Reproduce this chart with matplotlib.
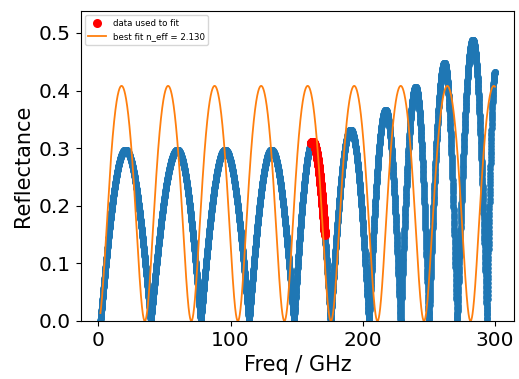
import numpy as np
import matplotlib
matplotlib.use("Agg")
import matplotlib.pyplot as plt

ext_freq = [1.6, 20.5, 39.7, 59.8, 77.5, 95.8, 114.0, 130.9, 148.0, 162.0, 175.7,
            190.8, 204.7, 217.3, 228.6, 240.0, 250.0, 261.8, 271.4, 283.2, 294.0, 300.0]
ext_refl = [0.0, 0.297, 0.0, 0.297, 0.0, 0.297, 0.0, 0.297, 0.0, 0.310, 0.0,
            0.332, 0.0, 0.366, 0.0, 0.406, 0.0, 0.448, 0.0, 0.488, 0.0, 0.432]
fit_range = [161.0, 171.4]   # GHz, points used for the fit

# best fit slab
n_eff = 2.130
thick = 2.0e-3   # m
c0 = 2.998e8

freq = np.arange(ext_freq[0], ext_freq[-1] + 0.01, 0.06)

# measured curve: |sin|-like fringes between the read extrema
refl = np.zeros_like(freq)
for i in range(len(ext_freq) - 1):
    f0, f1 = ext_freq[i], ext_freq[i + 1]
    y0, y1 = ext_refl[i], ext_refl[i + 1]
    m = (freq >= f0) & (freq <= f1)
    t = (freq[m] - f0) / (f1 - f0)
    if y1 > y0:
        refl[m] = y0 + (y1 - y0) * np.sin(np.pi / 2 * t)
    else:
        refl[m] = y1 + (y0 - y1) * np.cos(np.pi / 2 * t)

sel = (freq >= fit_range[0]) & (freq <= fit_range[1])

# Airy reflectance of the fitted slab
r = (n_eff - 1) / (n_eff + 1)
F = 4 * r**2 / (1 - r**2)**2
s = np.sin(2 * np.pi * n_eff * thick * freq * 1e9 / c0)**2
fit = F * s / (1 + F * s)

fig = plt.figure(figsize=(5.19, 3.79), dpi=100)
ax = fig.add_axes([80.7 / 519, 58 / 379, (514.3 - 80.7) / 519, (321 - 11) / 379])

ax.plot(freq, refl, 'o', ms=4.8, color='#1f77b4', mew=0)
ax.plot(freq[sel], refl[sel], 'o', ms=6.5, color='red', mew=0, label='data used to fit')
ax.plot(freq, fit, '-', lw=1.3, color='#ff7f0e', label=f'best fit n_eff = {n_eff:.3f}')

ax.set_xlim(-13.3, 314.6)
ax.set_ylim(0, 0.538)
ax.set_xticks([0, 100, 200, 300])
ax.set_yticks([0.0, 0.1, 0.2, 0.3, 0.4, 0.5])
ax.tick_params(labelsize=14.5)
ax.set_xlabel('Freq / GHz', fontsize=15)
ax.set_ylabel('Reflectance', fontsize=15)
ax.legend(loc='upper left', fontsize=6.2)

fig.savefig('out.png', dpi=100)
